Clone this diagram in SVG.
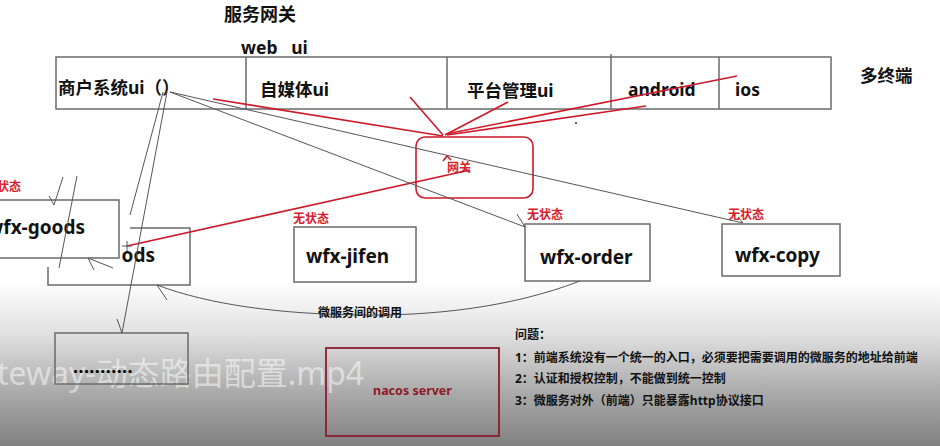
<svg xmlns="http://www.w3.org/2000/svg" width="940" height="446" viewBox="0 0 940 446">
<defs>
<linearGradient id="bg" x1="0" y1="0" x2="0" y2="1">
<stop offset="0" stop-color="#ffffff"/>
<stop offset="0.63" stop-color="#ffffff"/>
<stop offset="0.75" stop-color="#e0e0e0"/>
<stop offset="0.88" stop-color="#aaaaaa"/>
<stop offset="1" stop-color="#808080"/>
</linearGradient>
<style>
text{font-family:"Noto Sans","Noto Sans CJK SC",sans-serif;font-weight:bold;fill:#111}
.h{font-size:17.5px}
.svc{font-size:19px}
.red{fill:#d8202c;font-size:12px}
.sm{font-size:12px}
.box{fill:none;stroke:#6a6a6a;stroke-width:1.5}
.wbox{fill:#fff;stroke:#6a6a6a;stroke-width:1.5}
.g{fill:none;stroke:#555;stroke-width:1}
.r{fill:none;stroke:#cc1a2a;stroke-width:1.6}
</style>
</defs>
<rect x="0" y="0" width="940" height="446" fill="url(#bg)"/>
<text x="-3" y="385" style="font-family:'Noto Sans','Noto Sans CJK SC',sans-serif;font-weight:normal;font-size:32px;fill:#ffffff;fill-opacity:0.5">teway-动态路由配置.mp4</text>

<g id="title">
<text x="224" y="21" style="font-size:18px">服务网关</text>
<text x="241" y="54" class="h" xml:space="preserve">web   ui</text>
<text x="860" y="82" class="h">多终端</text>
</g>

<g id="terminals">
<rect class="box" x="56" y="57" width="775" height="52"/>
<line class="box" x1="246" y1="57" x2="246" y2="109"/>
<line class="box" x1="447" y1="57" x2="447" y2="109"/>
<line class="box" x1="611" y1="54" x2="611" y2="109"/>
<line class="box" x1="719" y1="57" x2="719" y2="109"/>
</g>
<g id="t-merchant"><text x="58" y="94" class="h">商户系统ui（）</text></g>
<g id="t-media"><text x="260" y="96" class="h">自媒体ui</text></g>
<g id="t-platform"><text x="467" y="97" class="h">平台管理ui</text></g>
<g id="t-android"><text x="628" y="96" class="h">android</text></g>
<g id="t-ios"><text x="735" y="96" class="h">ios</text></g>

<g id="gateway">
<rect x="416" y="137" width="117" height="61" rx="9" fill="none" stroke="#cc1a2a" stroke-width="1.6"/>
<text x="447" y="172" class="red">网关</text>
</g>

<g id="wfx-goods-back">
<path class="box" d="M130,228 H190 V285 H48 V267"/>
<text x="155" y="262" class="svc" text-anchor="end">ods</text>
</g>

<g id="wfx-goods">
<rect class="wbox" x="-10" y="200" width="129" height="58"/>
<text x="85" y="234" class="svc" text-anchor="end">wfx-goods</text>
<text x="-15" y="191" class="red">无状态</text>
</g>

<g id="wfx-jifen">
<rect class="box" x="294" y="227" width="122" height="55"/>
<text x="306" y="263" class="svc">wfx-jifen</text>
<text x="293" y="223" class="red">无状态</text>
</g>

<g id="wfx-order">
<rect class="box" x="525" y="224" width="125" height="57"/>
<text x="540" y="264" class="svc">wfx-order</text>
<text x="527" y="219" class="red">无状态</text>
</g>

<g id="wfx-copy">
<rect class="box" x="722" y="224" width="118" height="52"/>
<text x="735" y="262" class="svc">wfx-copy</text>
<text x="728" y="219" class="red">无状态</text>
</g>

<g id="more">
<rect class="box" x="55" y="333" width="133" height="51"/>
<text x="73" y="373" style="font-size:18px;letter-spacing:0.4px;fill:#000">...........</text>
</g>

<g id="nacos">
<rect x="326" y="348" width="173" height="88" fill="none" stroke="#8e1c2c" stroke-width="1.8"/>
<text x="373" y="395" style="font-size:12.5px;fill:#8e1a22">nacos server</text>
</g>

<g id="problems">
<text x="515" y="339" class="sm">问题：</text>
<text x="515" y="362" class="sm">1：前端系统没有一个统一的入口，必须要把需要调用的微服务的地址给前端</text>
<text x="515" y="383" class="sm">2：认证和授权控制，不能做到统一控制</text>
<text x="515" y="405" class="sm">3：微服务对外（前端）只能暴露http协议接口</text>
</g>

<g id="connectors">
<line class="r" x1="213" y1="99" x2="443" y2="136"/>
<line class="r" x1="410" y1="97" x2="443" y2="135"/>
<line class="r" x1="508" y1="102" x2="445" y2="135"/>
<line class="r" x1="737" y1="76" x2="446" y2="134"/>
<line class="r" x1="646" y1="106" x2="447" y2="135"/>
<line class="r" x1="127" y1="246" x2="470" y2="170"/>
<polyline class="r" stroke-width="1.2" points="443,161 447,156 451,160"/>
<line class="g" x1="170" y1="92" x2="525" y2="227"/>
<line class="g" x1="517" y1="214" x2="525" y2="227"/>
<line class="g" x1="170" y1="92" x2="743" y2="223"/>
<line class="g" x1="738" y1="217" x2="743" y2="223"/>
<line class="g" x1="167" y1="92" x2="122" y2="333"/>
<line class="g" x1="117" y1="319" x2="122" y2="333"/>
<line class="g" x1="163" y1="92" x2="130" y2="215"/>
<path class="g" d="M580,281 C510,308 430,316 360,315 C280,314 210,305 157,285"/>
<line class="g" x1="157" y1="285" x2="167" y2="300"/>
<text x="318" y="317" class="sm">微服务间的调用</text>
<line class="g" x1="63" y1="177" x2="54" y2="205"/>
<line class="g" x1="49" y1="196" x2="54" y2="205"/>
<line class="g" x1="77" y1="176" x2="59" y2="268"/>
<line class="g" x1="113" y1="268" x2="88" y2="258"/>
<line class="g" x1="88" y1="258" x2="94" y2="270"/>
<path class="g" d="M122,246 H132 M127,241 V251"/>
<circle cx="576" cy="123" r="1" fill="#333"/>
</g>
</svg>
